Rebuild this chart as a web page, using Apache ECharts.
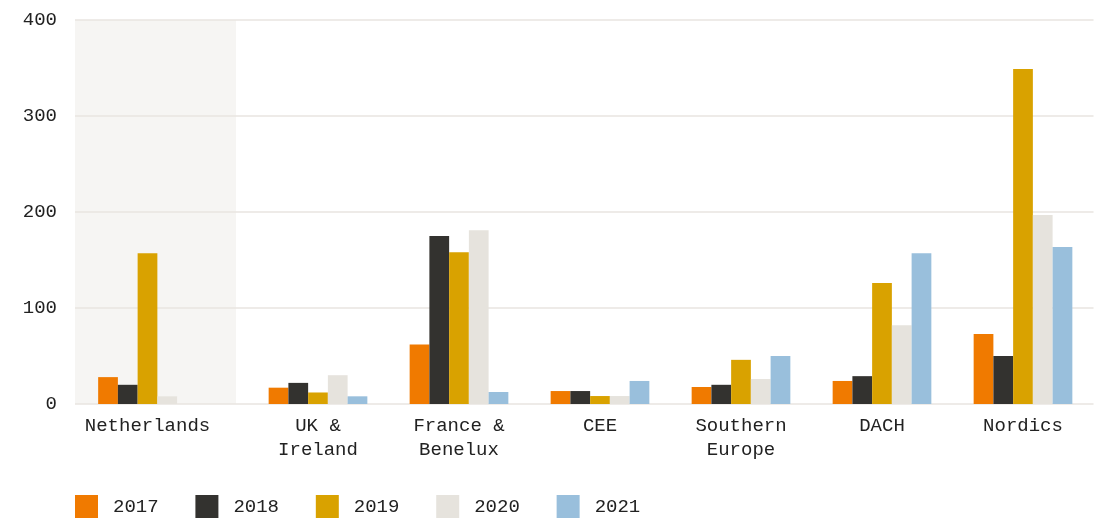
<!DOCTYPE html>
<html>
<head>
<meta charset="utf-8">
<script src="https://cdn.jsdelivr.net/npm/echarts@6/dist/echarts.min.js"></script>
<style>html,body{margin:0;padding:0;background:#fff}#c{width:1099px;height:518px}</style>
</head>
<body>
<div id="c"></div>
<script>
const categories = ['Netherlands', 'UK &\nIreland', 'France &\nBenelux', 'CEE', 'Southern\nEurope', 'DACH', 'Nordics'];
const years = ['2017', '2018', '2019', '2020', '2021'];
const colors = ['#f07a00', '#33322f', '#d9a200', '#e6e3dd', '#99bfdc'];
const v2017 = [28, 17, 62, 13.5, 17.7, 24, 73];
const v2018 = [20, 22, 175, 13.5, 20, 29, 50];
const v2019 = [157, 12, 158, 8.3, 46, 126, 349];
const v2020 = [8, 30, 181, 8.3, 26, 82, 197];
const v2021 = [null, 8, 12.5, 24, 50, 157, 163.5];
const yTicks = [0, 100, 200, 300, 400];

const values = [v2017, v2018, v2019, v2020, v2021];
const font = 'Liberation Mono';
const txt = '#222222';
const gridLine = '#e8e5e0';

const chart = echarts.init(document.getElementById('c'));
const yBase = {type: 'value', min: yTicks[0], max: yTicks[yTicks.length - 1], interval: 100};
const series = [];
years.forEach((y, i) => {
  series.push({name: y, type: 'bar', xAxisIndex: 1, yAxisIndex: 1, data: [values[i][0]],
    itemStyle: {color: colors[i]}, barGap: '0%', barCategoryGap: '30%', emphasis: {disabled: true}});
  series.push({name: y, type: 'bar', xAxisIndex: 2, yAxisIndex: 2, data: values[i].slice(1),
    itemStyle: {color: colors[i]}, barGap: '0%', barCategoryGap: '30%', emphasis: {disabled: true}});
});
const xLabel = {fontFamily: font, fontSize: 19, color: txt, lineHeight: 24, margin: 10, interval: 0};
chart.setOption({
  animation: false,
  graphic: [{type: 'rect', left: 75, top: 20, z: -10, shape: {width: 161, height: 384}, style: {fill: '#f6f5f3'}}],
  grid: [
    {left: 75, width: 1018.5, top: 20, height: 384},
    {left: 77, width: 141, top: 20, height: 384},
    {left: 247.5, width: 846, top: 20, height: 384}
  ],
  legend: {
    data: years, left: 70, top: 490, icon: 'rect', itemWidth: 23, itemHeight: 23, itemGap: 36.8,
    textStyle: {fontFamily: font, fontSize: 19, color: txt, padding: [0, 0, 0, 10]},
    selectedMode: false
  },
  xAxis: [
    {gridIndex: 0, type: 'category', data: [''], show: false},
    {gridIndex: 1, type: 'category', data: categories.slice(0, 1), axisLine: {show: false}, axisTick: {show: false}, axisLabel: xLabel},
    {gridIndex: 2, type: 'category', data: categories.slice(1), axisLine: {show: false}, axisTick: {show: false}, axisLabel: xLabel}
  ],
  yAxis: [
    Object.assign({gridIndex: 0, axisLine: {show: false}, axisTick: {show: false},
      splitLine: {show: true, lineStyle: {color: gridLine, width: 1.5}},
      axisLabel: {fontFamily: font, fontSize: 19, color: txt, margin: 18}}, yBase),
    Object.assign({gridIndex: 1, show: false, splitLine: {show: false}}, yBase),
    Object.assign({gridIndex: 2, show: false, splitLine: {show: false}}, yBase)
  ],
  series: series
});
</script>
</body>
</html>
